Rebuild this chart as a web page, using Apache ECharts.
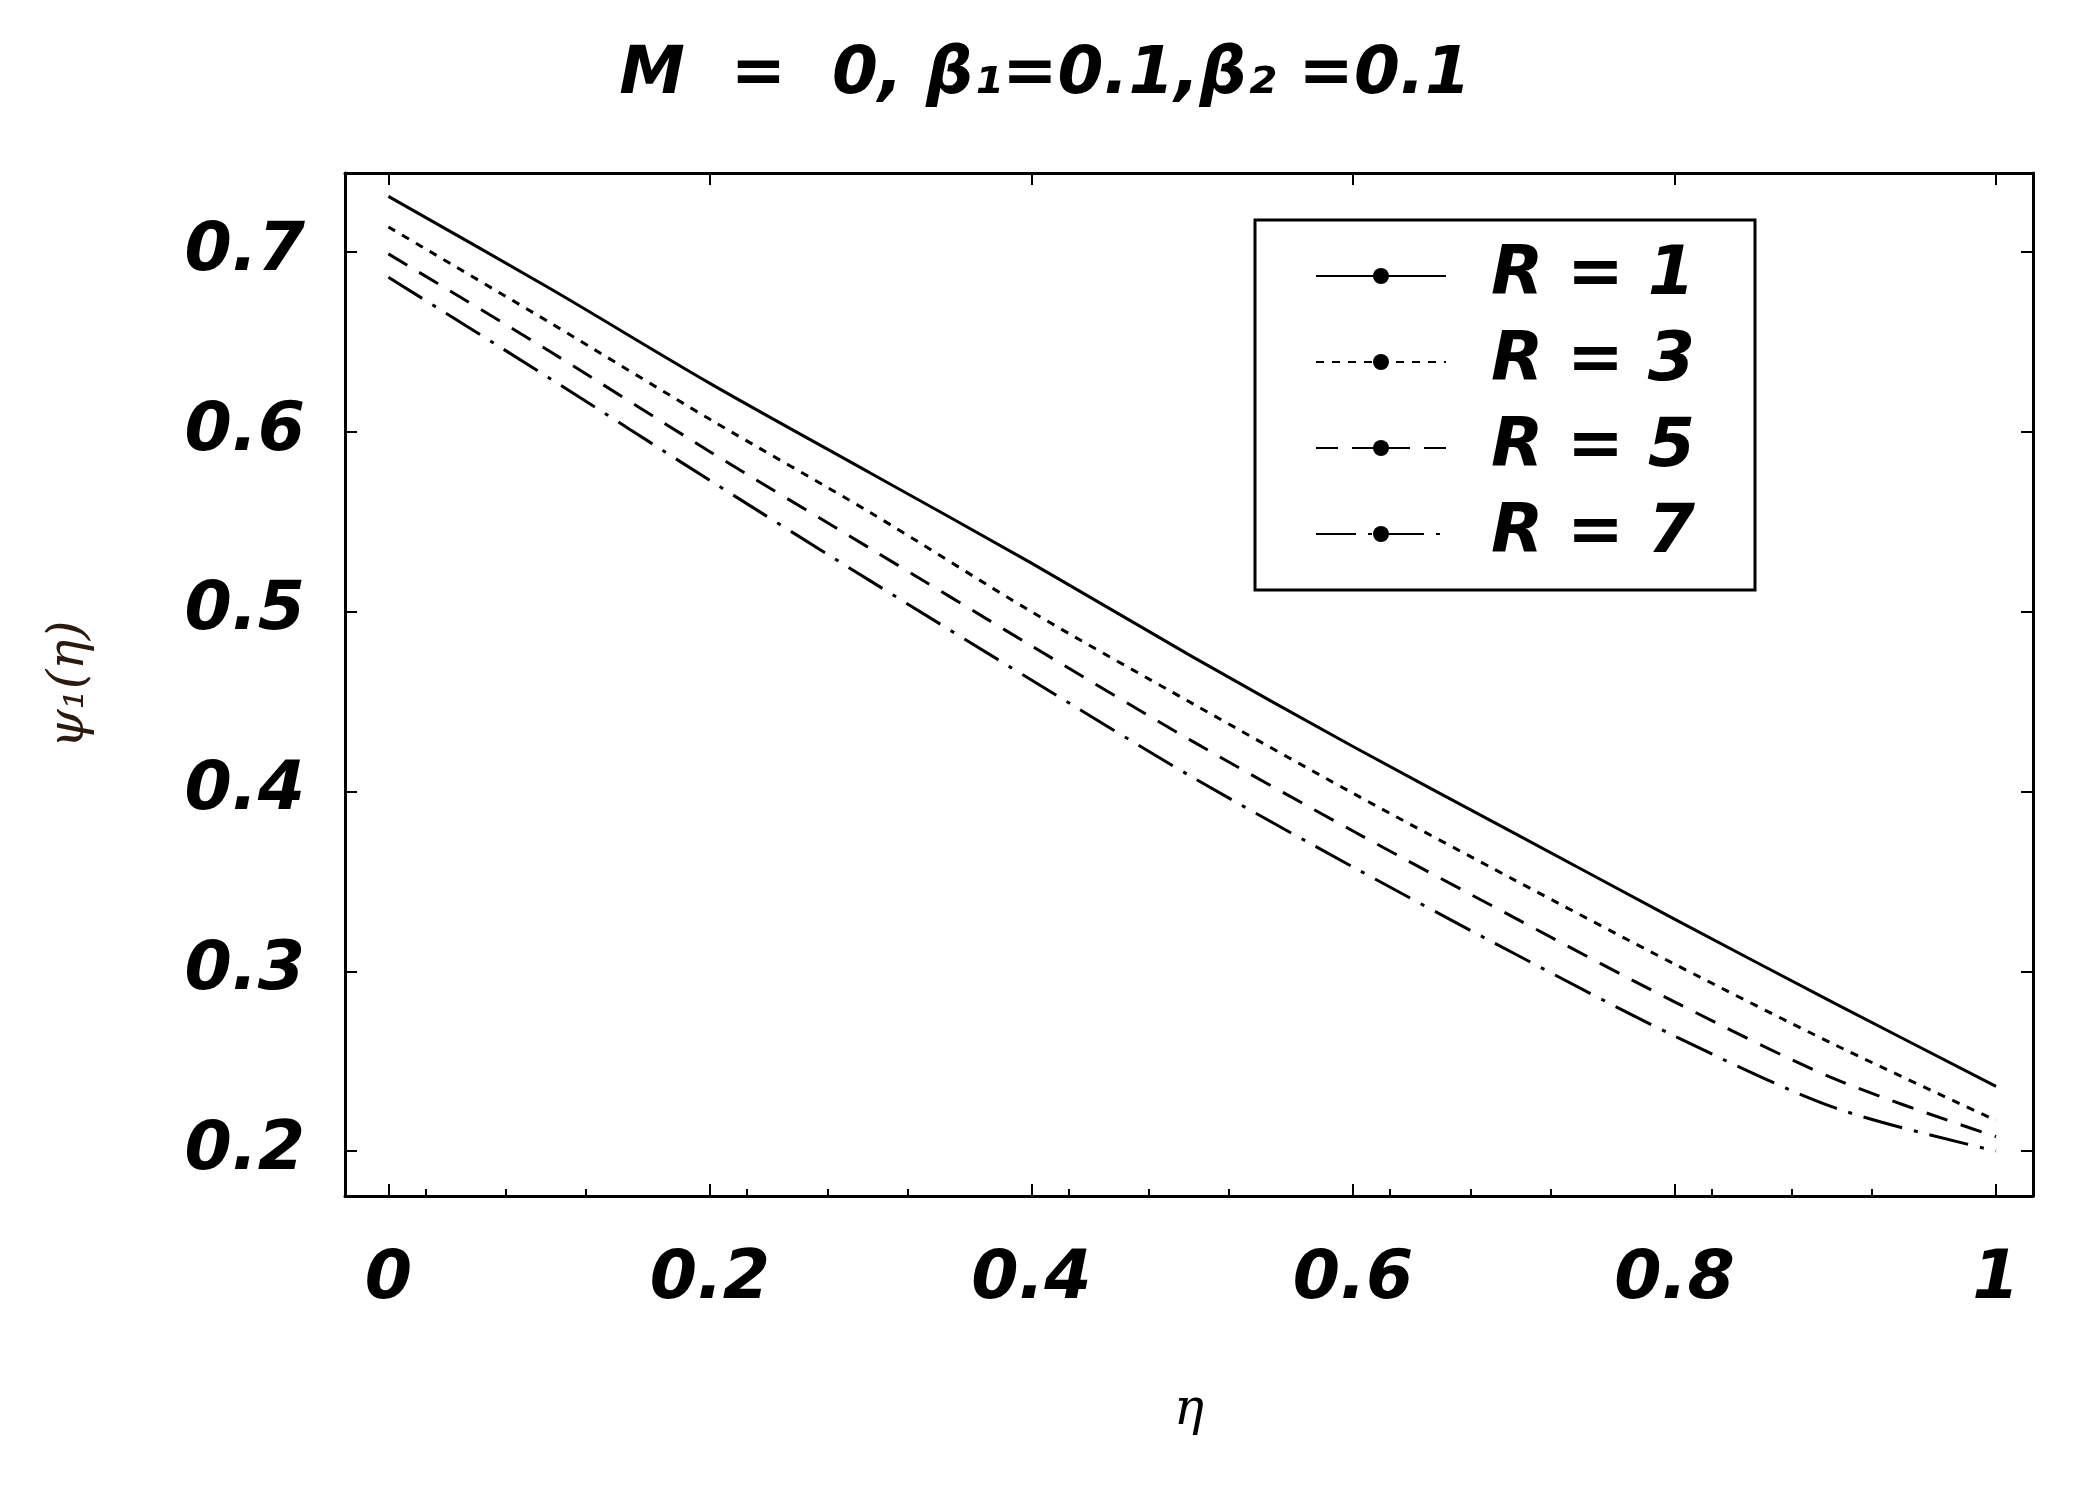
<!DOCTYPE html><html><head><meta charset="utf-8">
<script src="https://cdn.jsdelivr.net/npm/echarts@6/dist/echarts.min.js"></script>
<style>html,body{margin:0;background:#fff}#c{width:2090px;height:1485px}</style></head><body><div id="c"></div>
<script>
const eta=[0,0.1,0.2,0.3,0.4,0.5,0.6,0.7,0.8,0.9,1];
const r1=[0.731,0.680,0.627,0.577,0.527,0.475,0.425,0.377,0.329,0.282,0.236];
const r3=[0.714,0.661,0.607,0.555,0.500,0.449,0.399,0.351,0.304,0.259,0.217];
const r5=[0.699,0.645,0.589,0.535,0.481,0.428,0.378,0.330,0.283,0.240,0.208];
const r7=[0.686,0.630,0.573,0.517,0.462,0.408,0.358,0.310,0.264,0.224,0.200];
const names=['R = 1','R = 3','R = 5','R = 7'];
const dashes=['solid',[8,8],[22,14],[40,12,4,12]];
const xTicks={0:'0',0.2:'0.2',0.4:'0.4',0.6:'0.6',0.8:'0.8',1:'1'};
const lab={fontFamily:'DejaVu Sans',fontWeight:'bold',fontStyle:'italic',fontSize:58,color:'#000'};
const ch=echarts.init(document.getElementById('c'));
const ax={axisLine:{show:true,onZero:false,lineStyle:{color:'#000',width:3}},splitLine:{show:false},
 axisTick:{inside:true,length:12,lineStyle:{color:'#000',width:2}},minorTick:{show:true,length:7,lineStyle:{color:'#000',width:2}}};
const fmt=v=>{const k=Math.round(v*100)/100;return xTicks[k]!==undefined?xTicks[k]:''};
ch.setOption({
 animation:false,
 title:{text:'M  =  0, β₁=0.1,β₂ =0.1',left:'center',top:38,textStyle:{...lab,fontSize:66}},
 grid:{left:345,right:57,top:173,bottom:289},
 xAxis:[{type:'value',min:-0.027,max:1.023,interval:0.2,...ax,minorTick:{...ax.minorTick,splitNumber:4},
   axisLabel:{...lab,fontSize:68,margin:50,customValues:[0,0.2,0.4,0.6,0.8,1],formatter:fmt},
   axisTick:{...ax.axisTick,customValues:[0,0.2,0.4,0.6,0.8,1]},
   name:'η',nameLocation:'middle',nameGap:190,nameTextStyle:{fontFamily:'DejaVu Serif',fontStyle:'italic',fontSize:50,color:'#000'}},
  {type:'value',position:'top',min:-0.027,max:1.023,...ax,axisLabel:{show:false},
   axisTick:{...ax.axisTick,customValues:[0,0.2,0.4,0.6,0.8,1]},minorTick:{show:false}}],
 yAxis:[{type:'value',min:0.175,max:0.744,...ax,
   axisLabel:{...lab,fontSize:68,margin:40,customValues:[0.2,0.3,0.4,0.5,0.6,0.7],formatter:v=>v.toFixed(1)},
   axisTick:{...ax.axisTick,customValues:[0.2,0.3,0.4,0.5,0.6,0.7]},
   minorTick:{show:false},
   name:'ψ₁(η)',nameLocation:'middle',nameGap:250,nameRotate:90,nameTextStyle:{fontFamily:'DejaVu Serif',fontStyle:'italic',fontSize:50,color:'#2a1a10'}},
  {type:'value',position:'right',min:0.175,max:0.744,...ax,axisLabel:{show:false},
   axisTick:{...ax.axisTick,customValues:[0.2,0.3,0.4,0.5,0.6,0.7]},minorTick:{show:false}}],
 legend:{orient:'vertical',left:1255,top:220,padding:[22,60,22,60],itemGap:18,
   itemWidth:130,itemHeight:20,borderColor:'#000',borderWidth:3,
   textStyle:{...lab,fontSize:68,padding:[0,0,0,40]},data:names},
 series:[r1,r3,r5,r7].map((d,i)=>({name:names[i],type:'line',symbol:'none',showSymbol:false,smooth:0.3,
   data:eta.map((x,j)=>[x,d[j]]),lineStyle:{color:'#000',width:3,type:dashes[i]},itemStyle:{color:'#000'}}))
});
</script></body></html>
